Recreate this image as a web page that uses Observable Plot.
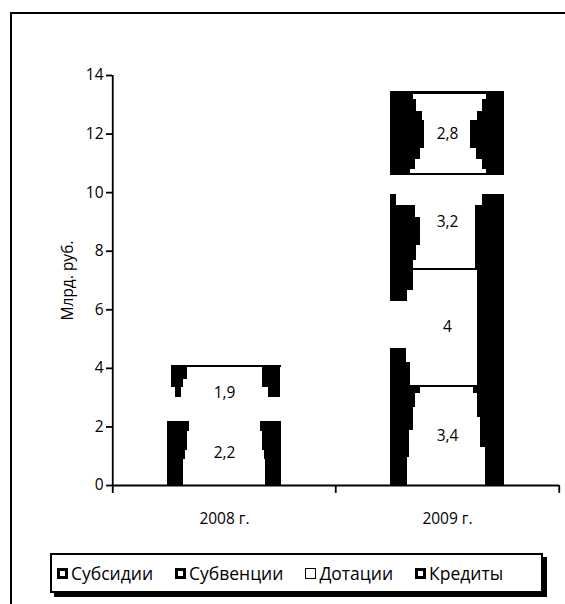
<!DOCTYPE html>
<html>
<head>
<meta charset="utf-8">
<script src="https://cdn.jsdelivr.net/npm/d3@7"></script>
<script src="https://cdn.jsdelivr.net/npm/@observablehq/plot@0.6"></script>
<style>
  html, body { margin: 0; padding: 0; background: #fff; overflow: hidden; }
  body { width: 565px; height: 604px; position: relative; font-family: "Open Sans", sans-serif; }
  #frame { position: absolute; left: 10px; top: 12px; width: 600px; height: 700px;
           border-top: 2.5px solid #000; border-left: 2.5px solid #000; }
  #chart { position: absolute; left: 0; top: 0; }
  #chart rect { shape-rendering: crispEdges; }
  #legend { position: absolute; left: 50px; top: 553px; width: 493px; height: 40px; box-sizing: border-box;
            border: 2px solid #000; box-shadow: 4px 4px 0 #000; background: #fff;
            display: flex; align-items: center; padding-left: 5px; font-size: 17.5px; color: #000; }
  .item { display: flex; align-items: center; margin-right: 22px; }
  .sw { width: 11px; height: 11px; box-sizing: border-box; border: 3px solid #000; background: #fff; margin-right: 3px; }
  .sw.thin { border-width: 1.5px; }
</style>
</head>
<body>
<div id="frame"></div>
<div id="chart"></div>
<div id="legend"></div>
<script>
// ---- data ----
const years = ["2008 г.", "2009 г."];
const series = ["Субсидии", "Субвенции", "Дотации", "Кредиты"];
const values2008 = [2.2, 1.9, 0, 0];
const values2009 = [3.4, 4, 3.2, 2.8];
const yTicks = [0, 2, 4, 6, 8, 10, 12, 14];
const yLabel = "Млрд. руб.";

// ---- layout (styles) ----
const W = 565, H = 540, mL = 112, mR = 6, mT = 75, mB = 55;
const padInner = 0.4877;
const step = (W - mL - mR) / years.length;
const bw = step * (1 - padInner);

// stacked segments built from the arrays
const segs = [];
[values2008, values2009].forEach((vals, i) => {
  let base = 0;
  vals.forEach((v, j) => {
    if (v > 0) {
      segs.push({year: years[i], series: series[j], value: v, base, label: String(v).replace(".", ",")});
      base += v;
    }
  });
});

// thresholded-gradient decoration per segment: [f0, f1, fromPx, toPx, colour]
const deco = {
  "2008 г.|Субсидии": [[.84,1,0,22],[.55,.84,0,20],[.4,.55,0,18],[0,.4,0,16],
                       [.84,1,93,115],[.55,.84,95,115],[.4,.55,97,115],[0,.4,98,115]],
  "2008 г.|Субвенции": [[.96,1,4,115],[.75,.96,4,20],[.6,.75,4,16],[.42,.6,8,14],
                        [.6,.96,95,113],[.42,.6,101,113]],
  "2009 г.|Субсидии": [[.92,1,0,30],[.78,.92,0,25],[.55,.78,0,23],[.28,.55,0,19],[0,.28,0,17],
                       [.92,1,83,115],[.68,.92,87,115],[.38,.68,90,115],[0,.38,95,115],[.985,1,21,87]],
  "2009 г.|Субвенции": [[.987,1,23,87],[.812,1,0,23],[.723,.812,0,17],[.198,.317,0,16],[0,.198,0,20],
                        [0,1,87,115]],
  "2009 г.|Дотации": [[.675,.79,0,6],[.546,.675,0,25],[.253,.546,0,30],[.093,.253,0,26],[0,.093,0,23],
                      [.675,.79,92,115],[0,.675,85,115]],
  "2009 г.|Кредиты": [[0,1.02,0,115],
                      [.927,.988,23,96,"#fff"],[.78,.927,26,92,"#fff"],[.66,.78,32,87,"#fff"],
                      [.33,.66,34,80,"#fff"],[.195,.33,30,86,"#fff"],[.073,.195,25,92,"#fff"],
                      [.024,.073,20,96,"#fff"]]
};

const decoMarks = [];
for (const s of segs) {
  const list = deco[s.year + "|" + s.series] || [];
  for (const [f0, f1, a, b, c] of list) {
    decoMarks.push(Plot.barY([s], {
      x: "year",
      y1: d => d.base + f0 * d.value,
      y2: d => d.base + f1 * d.value,
      insetLeft: a,
      insetRight: Math.max(0, bw - b),
      fill: c || "#000"
    }));
  }
}

const plot = Plot.plot({
  width: W, height: H,
  marginLeft: mL, marginRight: mR, marginTop: mT, marginBottom: mB,
  style: {fontFamily: "'Open Sans', sans-serif", fontSize: "15px", background: "transparent", color: "#000", overflow: "visible"},
  x: {domain: years, paddingInner: padInner, paddingOuter: padInner / 2, axis: null},
  y: {domain: [0, 14], axis: null},
  marks: [
    Plot.barY(segs, {x: "year", y1: "base", y2: d => d.base + d.value, fill: "#fff"}),
    ...decoMarks,
    Plot.text(segs, {x: "year", y: d => d.base + d.value / 2, text: "label", fontSize: 15.5, fill: "#000"}),
    Plot.ruleY([0], {stroke: "#000", strokeWidth: 1.8}),
    Plot.ruleX([years[0]], {x: d => d, dx: -step / 2, y1: -0.27, y2: 14, stroke: "#000", strokeWidth: 1.8}),
    Plot.ruleX([years[1]], {x: d => d, dx: -step / 2, y1: -0.27, y2: 0, stroke: "#000", strokeWidth: 1.8}),
    Plot.ruleX([years[1]], {x: d => d, dx: step / 2, y1: -0.27, y2: 0, stroke: "#000", strokeWidth: 1.8}),
    Plot.axisY(yTicks, {tickSize: 6, tickPadding: 3, fontSize: 15.5, stroke: "#000", strokeWidth: 1.8, label: null}),
    Plot.axisX({tickSize: 0, tickPadding: 27, fontSize: 15.5, label: null}),
    Plot.text([yLabel], {frameAnchor: "left", textAnchor: "middle", dx: -44, rotate: -90, fontSize: 15.5, fill: "#000"})
  ]
});
document.getElementById("chart").appendChild(plot);

// legend
const legend = document.getElementById("legend");
series.forEach(s => {
  const it = document.createElement("div");
  it.className = "item";
  const sw = document.createElement("span");
  sw.className = "sw" + (s === "Дотации" ? " thin" : "");
  const t = document.createElement("span");
  t.textContent = s;
  it.appendChild(sw); it.appendChild(t);
  legend.appendChild(it);
});
</script>
</body>
</html>
